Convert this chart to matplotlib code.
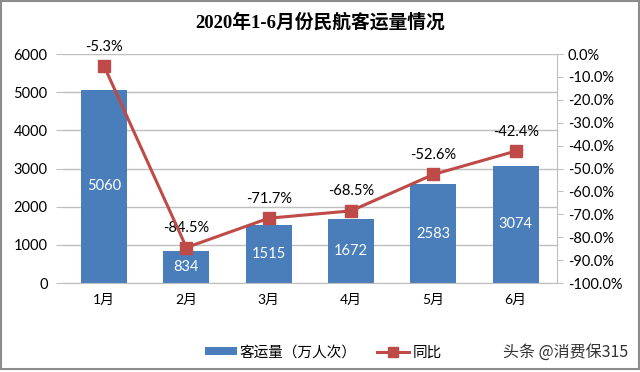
import matplotlib
matplotlib.use("Agg")
import matplotlib.pyplot as plt
from matplotlib.patches import Rectangle
from matplotlib.lines import Line2D
from matplotlib.patches import Patch

plt.rcParams['font.family'] = ['Lato', 'Noto Sans CJK SC', 'DejaVu Sans']

months = ['1月', '2月', '3月', '4月', '5月', '6月']
volume = [5060, 834, 1515, 1672, 2583, 3074]
yoy = [-5.3, -84.5, -71.7, -68.5, -52.6, -42.4]
left_ticks = [0, 1000, 2000, 3000, 4000, 5000, 6000]
right_ticks = [0, -10, -20, -30, -40, -50, -60, -70, -80, -90, -100]

bar_color = '#4A7EBB'
line_color = '#BE4B48'
grid_color = '#BFBFBF'

fig = plt.figure(figsize=(6.4, 3.72), dpi=100)
ax = fig.add_axes([0.0984, 0.2392, 0.7716, 0.6156])
x = list(range(len(months)))
ax.bar(x, volume, width=0.56, color=bar_color, zorder=2)
ax.set_ylim(0, 6000)
ax.set_xlim(-0.5, len(months) - 0.5)
ax.set_yticks(left_ticks)
ax.set_yticklabels([str(t) for t in left_ticks], fontsize=10.5, color='black')
ax.set_xticks(x)
ax.set_xticklabels(months, fontsize=10, color='black')
ax.yaxis.grid(True, color=grid_color, linewidth=1, zorder=0)
ax.set_axisbelow(True)
for s in ['top', 'left', 'right']:
    ax.spines[s].set_visible(False)
ax.spines['bottom'].set_color(grid_color)
ax.tick_params(axis='y', length=5, color=grid_color, pad=6)
ax.tick_params(axis='x', length=0, pad=8)

for xi, v in zip(x, volume):
    ax.text(xi, v / 2, str(v), ha='center', va='center', color='white', fontsize=10.5, zorder=3)

ax2 = ax.twinx()
ax2.set_ylim(-100, 0)
ax2.set_yticks(right_ticks)
ax2.set_yticklabels([f'{t:.1f}%' for t in right_ticks], fontsize=10.5, color='black')
ax2.plot(x, yoy, color=line_color, linewidth=2.2, marker='s', markersize=8,
         markerfacecolor=line_color, markeredgecolor=line_color, zorder=4)
for s in ['top', 'left', 'bottom']:
    ax2.spines[s].set_visible(False)
ax2.spines['right'].set_color(grid_color)
ax2.tick_params(axis='y', length=4, color=grid_color, pad=4)
for xi, v in zip(x, yoy):
    ax2.annotate(f'{v}%', (xi, v), xytext=(0, 9), textcoords='offset points',
                 ha='center', va='bottom', fontsize=10.5, color='black')

fig.text(0.5, 0.94, '2020年1-6月份民航客运量情况', ha='center', va='center',
         fontsize=13.5, fontweight='bold', family=['Liberation Serif', 'Noto Sans CJK SC'])

handles = [Patch(facecolor=bar_color, edgecolor='none'),
           Line2D([0], [0], color=line_color, linewidth=2.2, marker='s', markersize=7)]
fig.legend(handles, ['客运量（万人次）', '同比'], loc='center', bbox_to_anchor=(0.505, 0.053),
           ncol=2, frameon=False, fontsize=10.5, handlelength=2.2, handleheight=0.5,
           columnspacing=1.4, handletextpad=0.2)

fig.text(0.982, 0.053, '头条 @消费保315', ha='right', va='center', fontsize=11.5, color='#333333',
         family=['Noto Sans CJK SC'])

fig.patches.append(Rectangle((0.002, 0.008), 0.996, 0.988, transform=fig.transFigure,
                             fill=False, edgecolor='#8C8C8C', linewidth=1.5))

fig.savefig('out.png', dpi=100)
